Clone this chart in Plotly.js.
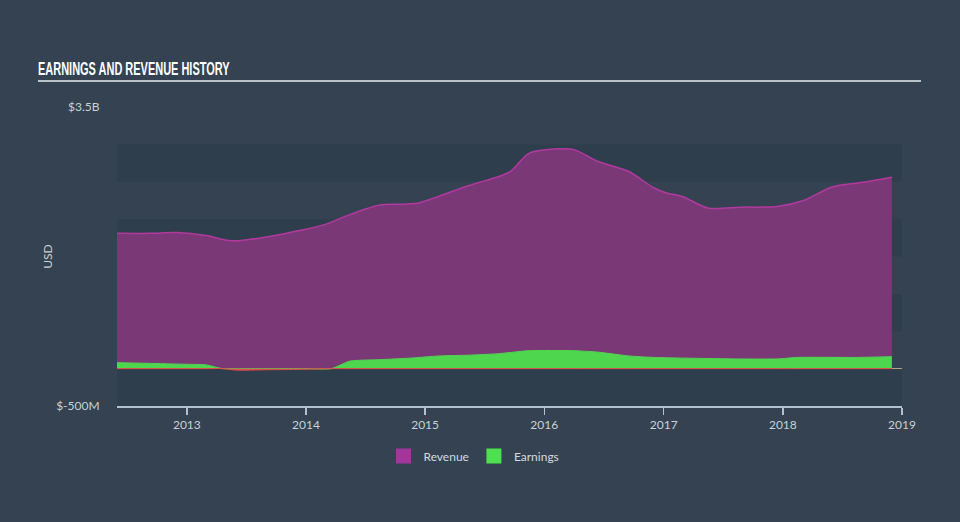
<!DOCTYPE html>
<html>
<head>
<meta charset="utf-8">
<script src="https://cdn.plot.ly/plotly-3.0.1.min.js"></script>
<style>
  html, body { margin: 0; padding: 0; background: #344251; }
  #chart { width: 960px; height: 522px; }
</style>
</head>
<body>
<div id="chart"></div>
<script>
// Revenue (USD billions, trailing)
const revenueDates = ['2012-06-01','2012-09-15','2012-12-01','2013-03-01','2013-05-15','2013-07-15','2013-09-15','2013-12-15',
  '2014-03-01','2014-05-15','2014-08-15','2014-11-01','2014-12-15','2015-02-15','2015-05-15','2015-08-15','2015-09-20',
  '2015-11-15','2016-02-15','2016-04-01','2016-06-15','2016-09-15','2016-12-01','2017-01-10','2017-03-01','2017-05-15',
  '2017-08-25','2017-12-15','2018-03-05','2018-05-25','2018-07-05','2018-09-15','2018-12-01'];
const revenueValues = [1.81,1.81,1.82,1.78,1.71,1.73,1.77,1.85,
  1.93,2.06,2.19,2.20,2.22,2.31,2.45,2.57,2.64,
  2.88,2.94,2.93,2.77,2.64,2.42,2.35,2.30,2.15,
  2.16,2.17,2.25,2.42,2.46,2.50,2.56];

// Earnings (USD billions)
const earningsDates = ['2012-06-01','2012-12-15','2013-03-01','2013-04-20','2013-06-01','2013-09-01','2013-12-15','2014-03-20',
  '2014-05-15','2014-08-15','2014-11-15','2015-02-15','2015-05-15','2015-08-15','2015-11-15','2016-04-01','2016-06-15',
  '2016-09-15','2016-12-01','2017-08-15','2017-12-15','2018-02-15','2018-08-15','2018-12-01'];
const earningsValues = [0.08,0.06,0.05,0.0,-0.02,-0.015,-0.01,0.0,
  0.10,0.12,0.14,0.17,0.18,0.20,0.24,0.24,0.22,
  0.17,0.15,0.13,0.13,0.15,0.15,0.16];

const yTickVals = [-0.5, 3.5];
const yTickText = ['$-500M', '$3.5B'];
const xTickVals = ['2013-01-01','2014-01-01','2015-01-01','2016-01-01','2017-01-01','2018-01-01','2019-01-01'];
const xTickText = ['2013','2014','2015','2016','2017','2018','2019'];

const revenueColor = '#7a3877';
const earningsColor = '#4fd64f';

const earningsPos = earningsValues.map(v => Math.max(v, 0));
const earningsNeg = earningsValues.map(v => Math.min(v, 0));

const traces = [
  {
    x: revenueDates, y: revenueValues, name: 'Revenue', type: 'scatter', mode: 'lines',
    fill: 'tozeroy', fillcolor: revenueColor, showlegend: false,
    line: { color: '#b2399f', width: 1.5, shape: 'spline', smoothing: 0.8 },
    hoverinfo: 'skip'
  },
  {
    x: earningsDates, y: earningsPos, name: 'Earnings', type: 'scatter', mode: 'lines',
    fill: 'tozeroy', fillcolor: earningsColor, showlegend: false,
    line: { color: earningsColor, width: 1, shape: 'spline', smoothing: 0.6 },
    hoverinfo: 'skip'
  },
  {
    x: earningsDates, y: earningsNeg, name: 'Earnings (loss)', type: 'scatter', mode: 'lines',
    fill: 'tozeroy', fillcolor: '#e8494b', showlegend: false,
    line: { color: '#e8494b', width: 1, shape: 'spline', smoothing: 0.6 },
    hoverinfo: 'skip'
  },
  // legend entries (square swatches), not drawn in the plot
  { x: revenueDates, y: revenueValues, type: 'bar', name: 'Revenue', visible: 'legendonly', marker: { color: '#a2369a' } },
  { x: earningsDates, y: earningsValues, type: 'bar', name: 'Earnings', visible: 'legendonly', marker: { color: '#4fe04f' } }
];

const bandColor = '#2f3e4c';
const bands = [[2.5, 3.0], [1.5, 2.0], [0.5, 1.0], [-0.5, 0]];
const shapes = bands.map(b => ({
  type: 'rect', xref: 'paper', yref: 'y', x0: 0, x1: 1, y0: b[0], y1: b[1],
  fillcolor: bandColor, line: { width: 0 }, layer: 'below'
}));
shapes.push({
  type: 'line', xref: 'paper', yref: 'paper',
  x0: (38 - 117) / 785, x1: (921 - 117) / 785, y0: (406 - 81) / 299, y1: (406 - 81) / 299,
  line: { color: '#b9c1c9', width: 2 }
});

const layout = {
  width: 960, height: 522,
  paper_bgcolor: '#344251', plot_bgcolor: 'rgba(0,0,0,0)',
  margin: { l: 117, r: 58, t: 107, b: 116 },
  font: { family: 'Lato, "Open Sans", sans-serif', color: '#c9d1d9', size: 12 },
  title: {
    text: 'EARNINGS AND REVENUE HISTORY',
    font: { family: '"Liberation Sans", sans-serif', size: 19, color: '#ffffff', weight: 'bold' },
    xref: 'container', yref: 'container', x: 38 / 960, xanchor: 'left', y: 1 - 68 / 522, yanchor: 'middle'
  },
  xaxis: {
    type: 'date', range: ['2012-06-01', '2019-01-01'],
    tickvals: xTickVals, ticktext: xTickText,
    showgrid: false, zeroline: false,
    showline: true, linecolor: '#b3c0cd', linewidth: 1.5,
    ticks: 'outside', ticklen: 7, tickcolor: '#b3c0cd', tickwidth: 1.5,
    tickfont: { size: 12, color: '#c9d1d9' }, fixedrange: true
  },
  yaxis: {
    range: [-0.5, 3.5], tickvals: yTickVals, ticktext: yTickText,
    showgrid: false, showline: false,
    zeroline: true, zerolinecolor: '#b5a07f', zerolinewidth: 1.5,
    ticks: 'outside', ticklen: 14, tickcolor: 'rgba(0,0,0,0)',
    tickfont: { size: 12, color: '#c9d1d9' },
    title: { text: 'USD', font: { size: 12, color: '#c9d1d9' }, standoff: 0 },
    fixedrange: true
  },
  showlegend: true,
  legend: {
    orientation: 'h', x: 0.5 - 6 / 960, xanchor: 'center', xref: 'container',
    y: 1 - 456 / 522, yref: 'container', yanchor: 'middle',
    font: { size: 12, color: '#d3dae1' }, bgcolor: 'rgba(0,0,0,0)',
    traceorder: 'normal', itemwidth: 30
  },
  shapes: shapes
};

Plotly.newPlot('chart', traces, layout, { displayModeBar: false, staticPlot: true }).then(gd => {
  const t = gd.querySelector('.gtitle');
  if (t) {
    const bb = t.getBBox();
    const s = 192 / bb.width;
    const x0 = 38;
    t.setAttribute('transform', `translate(${x0},0) scale(${s},1) translate(${-x0},0)`);
  }
  gd.querySelectorAll('.legend .traces').forEach(el => { el.style.opacity = 1; });
  gd.querySelectorAll('.legend .legendpoints path').forEach(p => {
    p.setAttribute('d', 'M7.5,7.5H-7.5V-7.5H7.5Z');
  });
});
</script>
</body>
</html>
